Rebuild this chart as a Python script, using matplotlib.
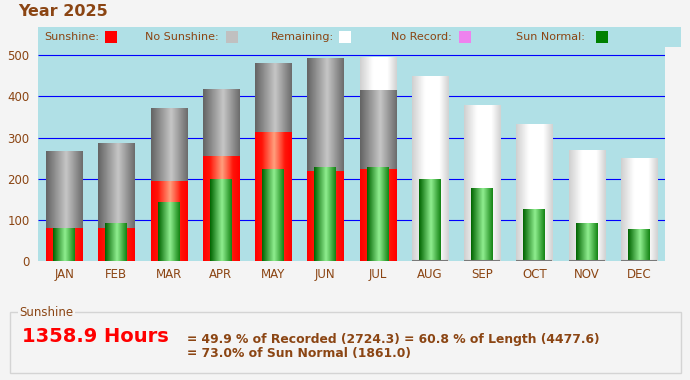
import numpy as np
import matplotlib.pyplot as plt
from matplotlib.colors import LinearSegmentedColormap
from matplotlib.patches import Rectangle

months = ["JAN", "FEB", "MAR", "APR", "MAY", "JUN",
          "JUL", "AUG", "SEP", "OCT", "NOV", "DEC"]
day_length = [266, 285, 370, 416, 482, 491, 494, 448, 377, 331, 268, 249]  # remaining (white)
recorded = [266, 285, 370, 416, 482, 491, 414.3, 0, 0, 0, 0, 0]  # no sunshine (grey)
sunshine = [79, 79, 194, 254, 312, 218, 222.9, 0, 0, 0, 0, 0]  # red
sun_normal = [80, 92, 143, 199, 223, 228, 228, 199, 175, 126, 92, 76]  # green
yticks = [0, 100, 200, 300, 400, 500]

legend_items = [("Sunshine:", "#ff0000"), ("No Sunshine:", "#c0c0c0"),
                ("Remaining:", "#ffffff"), ("No Record:", "#ee82ee"),
                ("Sun Normal:", "#008000")]

total_hours = "1358.9 Hours"
line1 = "= 49.9 % of Recorded (2724.3) = 60.8 % of Length (4477.6)"
line2 = "= 73.0% of Sun Normal (1861.0)"

BROWN = "#8b4513"
BG = "#f4f4f4"
PLOT_BG = "#b0e0e6"

W, H = 690, 380


def fx(px):
    return px / W


def fy(py):
    return 1 - py / H


cm_grey = LinearSegmentedColormap.from_list(
    "g", [(0, "#646464"), (0.55, "#c6c6c6"), (1, "#6c6c6c")])
cm_red = LinearSegmentedColormap.from_list(
    "r", [(0, "#ff0000"), (0.18, "#ff1408"), (0.52, "#ffa07e"), (0.82, "#ff1408"), (1, "#ff0000")])
cm_green = LinearSegmentedColormap.from_list(
    "gr", [(0, "#006400"), (0.55, "#90ee90"), (1, "#148414")])
cm_white = LinearSegmentedColormap.from_list(
    "w", [(0, "#d0d0d0"), (0.35, "#ffffff"), (0.75, "#ffffff"), (1, "#d2d2d2")])

grad = np.linspace(0, 1, 64).reshape(1, -1)


def grad_bar(ax, x, bottom, top, width, cmap, z):
    if top <= bottom:
        return
    ax.imshow(grad, cmap=cmap, extent=(x - width / 2, x + width / 2, bottom, top),
              aspect="auto", zorder=z, interpolation="bilinear")


fig = plt.figure(figsize=(W / 100, H / 100), dpi=100, facecolor=BG)

# legend strip above the plot
fig.patches.append(Rectangle((fx(38), fy(47)), fx(681) - fx(38), fy(27) - fy(47),
                             transform=fig.transFigure, facecolor=PLOT_BG,
                             edgecolor="none", zorder=0))

ax = fig.add_axes([fx(38), fy(261), fx(665) - fx(38), fy(47) - fy(261)])
ax.set_facecolor(PLOT_BG)

x = np.arange(len(months))
bw = 0.69
gw = 0.42

ax.hlines(yticks[1:], -0.5, 11.5, color="#0000ff", lw=0.8, zorder=1)

for i in x:
    grad_bar(ax, i, recorded[i], day_length[i], bw, cm_white, 2)
    grad_bar(ax, i, sunshine[i], recorded[i], bw, cm_grey, 3)
    grad_bar(ax, i, 0, sunshine[i], bw, cm_red, 4)
    grad_bar(ax, i, 0, sun_normal[i], gw, cm_green, 5)
    if recorded[i] == 0:
        ax.hlines(0, i - bw / 2, i + bw / 2, color="#7a7a7a", lw=1.5, zorder=6)

ax.set_xlim(-0.5, 11.5)
ax.set_ylim(0, 520)
ax.set_xticks(x)
ax.set_xticklabels(months)
ax.set_yticks(yticks)
ax.tick_params(length=0, colors=BROWN, labelsize=8.5)
ax.tick_params(axis="x", pad=5)
ax.tick_params(axis="y", pad=6)
for s in ax.spines.values():
    s.set_visible(False)

# title
fig.text(fx(18), fy(12), "Year 2025", fontsize=11.5, fontweight="bold",
         color=BROWN, va="center", ha="left")

# legend
leg_x = [44, 145, 271, 391, 516]
sq_x = [105, 226, 339, 459, 596]
for (label, col), tx, sx in zip(legend_items, leg_x, sq_x):
    fig.text(fx(tx), fy(37), label, fontsize=8, color=BROWN, va="center", ha="left")
    fig.patches.append(Rectangle((fx(sx), fy(43)), fx(12), 12 / H,
                                 transform=fig.transFigure, facecolor=col,
                                 edgecolor="none", zorder=2))

# summary box
fig.patches.append(Rectangle((fx(10), fy(373)), fx(671), 61 / H,
                             transform=fig.transFigure, facecolor="none",
                             edgecolor="#d4d4d4", lw=1))
fig.text(fx(19), fy(312), "Sunshine", fontsize=8.5, color=BROWN, va="center", ha="left",
         bbox=dict(facecolor=BG, edgecolor="none", pad=1))
fig.text(fx(22), fy(336), total_hours, fontsize=14, fontweight="bold",
         color="#ff0000", va="center", ha="left")
fig.text(fx(187), fy(340), line1, fontsize=8.9, fontweight="bold",
         color=BROWN, va="center", ha="left")
fig.text(fx(187), fy(354), line2, fontsize=8.9, fontweight="bold",
         color=BROWN, va="center", ha="left")

fig.savefig("out.png", dpi=100, facecolor=BG)
